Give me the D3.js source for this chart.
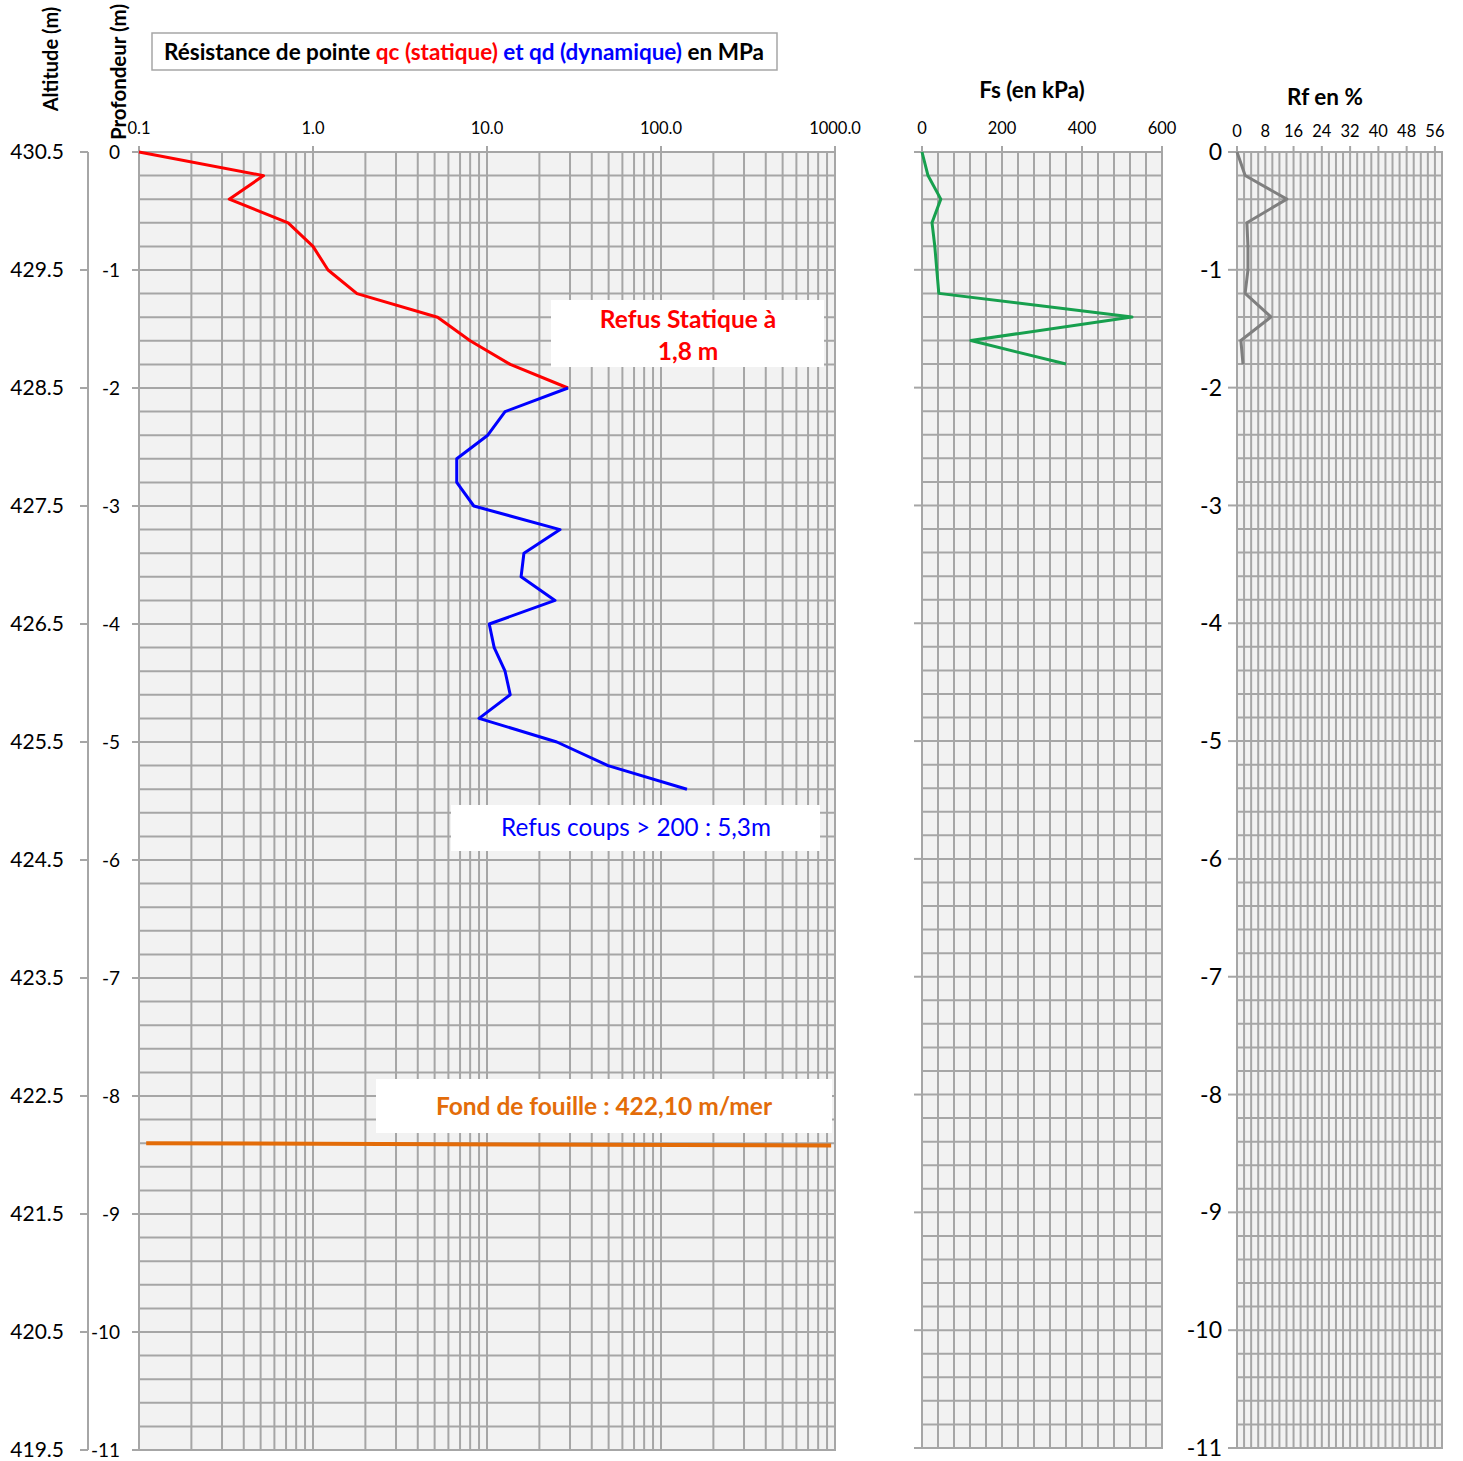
<!DOCTYPE html>
<html><head><meta charset="utf-8">
<script src="https://cdn.jsdelivr.net/npm/d3@7"></script>
<style>body{margin:0;background:#fff}svg{display:block}text{font-family:Lato,"Open Sans",sans-serif}</style>
</head><body>
<svg id="c" width="1463" height="1461"></svg>
<script>
// ---- data ----
const qcDepth = [0, -0.2, -0.4, -0.6, -0.8, -1.0, -1.2, -1.4, -1.6, -1.8, -2.0];
const qcValue = [0.1, 0.52, 0.33, 0.72, 1.0, 1.22, 1.79, 5.2, 8.0, 13.6, 29.2];
const qdDepth = [-2.0, -2.2, -2.4, -2.6, -2.8, -3.0, -3.2, -3.4, -3.6, -3.8, -4.0, -4.2, -4.4, -4.6, -4.8, -5.0, -5.2, -5.4];
const qdValue = [29.2, 12.7, 10.1, 6.7, 6.7, 8.4, 26.3, 16.3, 15.7, 24.6, 10.3, 11.0, 12.7, 13.6, 9.0, 25.2, 49.6, 141];
const fsDepth = [0, -0.2, -0.4, -0.6, -0.8, -1.0, -1.2, -1.4, -1.6, -1.8];
const fsValue = [0, 15, 47, 25, 32, 37, 42, 525, 122, 360];
const rfDepth = [0, -0.2, -0.4, -0.6, -0.8, -1.0, -1.2, -1.4, -1.6, -1.8];
const rfValue = [0, 2.3, 14.1, 2.8, 3.1, 3.1, 2.3, 9.6, 1.1, 1.7];
const fondDepth = [-8.40, -8.42];
const fondValue = [0.11, 950];
const qTicks = [0.1, 1, 10, 100, 1000];
const qTickLabels = ["0.1", "1.0", "10.0", "100.0", "1000.0"];
const depthTicks = [0, -1, -2, -3, -4, -5, -6, -7, -8, -9, -10, -11];
const altTicks = [430.5, 429.5, 428.5, 427.5, 426.5, 425.5, 424.5, 423.5, 422.5, 421.5, 420.5, 419.5];
const fsTicks = [0, 200, 400, 600];
const rfTicks = [0, 8, 16, 24, 32, 40, 48, 56];

// ---- setup ----
const svg = d3.select("#c");
const GRID = "#a6a6a6", BG = "#f2f2f2";
const yTop = 152, yBot = 1450;
const yMain = d3.scaleLinear().domain([0, -11]).range([yTop, yBot]);
const yAlt = d3.scaleLinear().domain([430.5, 419.5]).range([yTop, yBot]);
const xQ = d3.scaleLog().domain([0.1, 1000]).range([139, 835]);
const yFs = d3.scaleLinear().domain([0, -11]).range([yTop, 1448]);
const xFs = d3.scaleLinear().domain([0, 600]).range([922, 1162]);
const xRf = d3.scaleLinear().domain([0, 58]).range([1237, 1442]);

const minorDepth = d3.range(0, 56).map(i => -i * 0.2);

function panel(x, y, vLines, hLines) {
  const g = svg.append("g");
  const [x0, x1] = x.range(), [y0, y1] = y.range();
  g.append("rect").attr("x", x0).attr("y", y0).attr("width", x1 - x0).attr("height", y1 - y0).attr("fill", BG);
  g.selectAll(".v").data(vLines).join("line")
    .attr("x1", d => x(d)).attr("x2", d => x(d)).attr("y1", y0).attr("y2", y1)
    .attr("stroke", GRID).attr("stroke-width", 2);
  g.selectAll(".h").data(hLines).join("line")
    .attr("x1", x0).attr("x2", x1).attr("y1", d => y(d)).attr("y2", d => y(d))
    .attr("stroke", GRID).attr("stroke-width", 2);
  g.append("rect").attr("x", x0).attr("y", y0).attr("width", x1 - x0).attr("height", y1 - y0)
    .attr("fill", "none").attr("stroke", GRID).attr("stroke-width", 2);
  return g;
}

// main panel grid
const qGrid = [];
[0.1, 1, 10, 100].forEach(d => { for (let k = 1; k <= 9; k++) qGrid.push(d * k); });
qGrid.push(1000);
panel(xQ, yMain, qGrid, minorDepth.concat([-11]));
panel(xFs, yFs, d3.range(0, 601, 40), minorDepth.concat([-11]));
panel(xRf, yFs, d3.range(0, 59, 2), minorDepth.concat([-11]));

// ticks on top
function topTicks(x, vals, len) {
  svg.append("g").selectAll("line").data(vals).join("line")
    .attr("x1", d => x(d)).attr("x2", d => x(d)).attr("y1", yTop - len).attr("y2", yTop)
    .attr("stroke", GRID).attr("stroke-width", 2);
}
topTicks(xQ, qTicks, 6);
topTicks(xFs, fsTicks, 6);
topTicks(xRf, rfTicks, 6);

// top tick labels
svg.append("g").selectAll("text").data(qTicks).join("text")
  .attr("x", d => xQ(d)).attr("y", 134).attr("text-anchor", "middle")
  .attr("font-size", 16.5).text((d, i) => qTickLabels[i]);
svg.append("g").selectAll("text").data(fsTicks).join("text")
  .attr("x", d => xFs(d)).attr("y", 134).attr("text-anchor", "middle")
  .attr("font-size", 16.5).text(d => d);
svg.append("g").selectAll("text").data(rfTicks).join("text")
  .attr("x", d => xRf(d)).attr("y", 137).attr("text-anchor", "middle")
  .attr("font-size", 16.5).text(d => d);

// depth axis (main)
svg.append("g").selectAll("line").data(depthTicks).join("line")
  .attr("x1", 132).attr("x2", 139).attr("y1", d => yMain(d)).attr("y2", d => yMain(d))
  .attr("stroke", GRID).attr("stroke-width", 2);
svg.append("g").selectAll("text").data(depthTicks).join("text")
  .attr("x", 120).attr("y", d => yMain(d)).attr("dy", "0.35em").attr("text-anchor", "end")
  .attr("font-size", 19).text(d => d === 0 ? "0" : "-" + Math.abs(d));

// altitude axis
svg.append("line").attr("x1", 88).attr("x2", 88).attr("y1", yTop).attr("y2", yBot)
  .attr("stroke", GRID).attr("stroke-width", 2);
svg.append("g").selectAll("line").data(altTicks).join("line")
  .attr("x1", 80).attr("x2", 88).attr("y1", d => yAlt(d)).attr("y2", d => yAlt(d))
  .attr("stroke", GRID).attr("stroke-width", 2);
svg.append("g").selectAll("text").data(altTicks).join("text")
  .attr("x", 64).attr("y", d => yAlt(d)).attr("dy", "0.35em").attr("text-anchor", "end")
  .attr("font-size", 21).text(d => d.toFixed(1));

// fs left ticks
svg.append("g").selectAll("line").data(depthTicks).join("line")
  .attr("x1", 914).attr("x2", 922).attr("y1", d => yFs(d)).attr("y2", d => yFs(d))
  .attr("stroke", GRID).attr("stroke-width", 2);
// rf left ticks + labels
svg.append("g").selectAll("line").data(depthTicks).join("line")
  .attr("x1", 1228).attr("x2", 1237).attr("y1", d => yFs(d)).attr("y2", d => yFs(d))
  .attr("stroke", GRID).attr("stroke-width", 2);
svg.append("g").selectAll("text").data(depthTicks).join("text")
  .attr("x", 1222).attr("y", d => yFs(d)).attr("dy", "0.35em").attr("text-anchor", "end")
  .attr("font-size", 23).text(d => d === 0 ? "0" : "-" + Math.abs(d));

// axis titles
svg.append("text").attr("transform", "translate(58,59) rotate(-90)").attr("text-anchor", "middle")
  .attr("font-size", 20).attr("font-weight", "bold").text("Altitude (m)");
svg.append("text").attr("transform", "translate(126,72) rotate(-90)").attr("text-anchor", "middle")
  .attr("font-size", 20.5).attr("font-weight", "bold").text("Profondeur (m)");
svg.append("text").attr("x", 1032).attr("y", 98).attr("text-anchor", "middle")
  .attr("font-size", 22.5).attr("font-weight", "bold").text("Fs (en kPa)");
svg.append("text").attr("x", 1325).attr("y", 105).attr("text-anchor", "middle")
  .attr("font-size", 22.5).attr("font-weight", "bold").text("Rf en %");

// main title box
svg.append("rect").attr("x", 152).attr("y", 33).attr("width", 625).attr("height", 37)
  .attr("fill", "#fff").attr("stroke", "#a6a6a6").attr("stroke-width", 1.5);
const t = svg.append("text").attr("x", 464).attr("y", 60).attr("text-anchor", "middle")
  .attr("font-size", 22.5).attr("font-weight", "bold");
t.append("tspan").attr("fill", "#000").text("Résistance de pointe ");
t.append("tspan").attr("fill", "#ff0000").text("qc (statique)");
t.append("tspan").attr("fill", "#0000ff").text(" et qd (dynamique)");
t.append("tspan").attr("fill", "#000").text(" en MPa");

// lines
function drawLine(xs, ys, vals, deps, color, w) {
  const pts = vals.map((v, i) => [v, deps[i]]);
  svg.append("path").datum(pts)
    .attr("d", d3.line().x(d => xs(d[0])).y(d => ys(d[1])))
    .attr("fill", "none").attr("stroke", color).attr("stroke-width", w)
    .attr("stroke-linejoin", "round");
}
drawLine(xQ, yMain, fondValue, fondDepth, "#e36c09", 4);
drawLine(xQ, yMain, qcValue, qcDepth, "#ff0000", 3);
drawLine(xQ, yMain, qdValue, qdDepth, "#0000ff", 3);
drawLine(xFs, yFs, fsValue, fsDepth, "#17a04e", 3);
drawLine(xRf, yFs, rfValue, rfDepth, "#7f7f7f", 3);

// annotations
svg.append("rect").attr("x", 551).attr("y", 300).attr("width", 273).attr("height", 67).attr("fill", "#fff");
svg.append("text").attr("x", 688).attr("y", 328).attr("text-anchor", "middle").attr("font-size", 24.5)
  .attr("font-weight", "bold").attr("fill", "#ff0000").text("Refus Statique à");
svg.append("text").attr("x", 688).attr("y", 360).attr("text-anchor", "middle").attr("font-size", 24.5)
  .attr("font-weight", "bold").attr("fill", "#ff0000").text("1,8 m");

svg.append("rect").attr("x", 451).attr("y", 805).attr("width", 369).attr("height", 46).attr("fill", "#fff");
svg.append("text").attr("x", 636).attr("y", 836).attr("text-anchor", "middle").attr("font-size", 24.3)
  .attr("fill", "#0000ff").text("Refus coups > 200 : 5,3m");

svg.append("rect").attr("x", 376).attr("y", 1079).attr("width", 456).attr("height", 54).attr("fill", "#fff");
svg.append("text").attr("x", 604).attr("y", 1115).attr("text-anchor", "middle").attr("font-size", 24.5)
  .attr("font-weight", "bold").attr("fill", "#e36c09").text("Fond de fouille : 422,10 m/mer");
</script>
</body></html>
